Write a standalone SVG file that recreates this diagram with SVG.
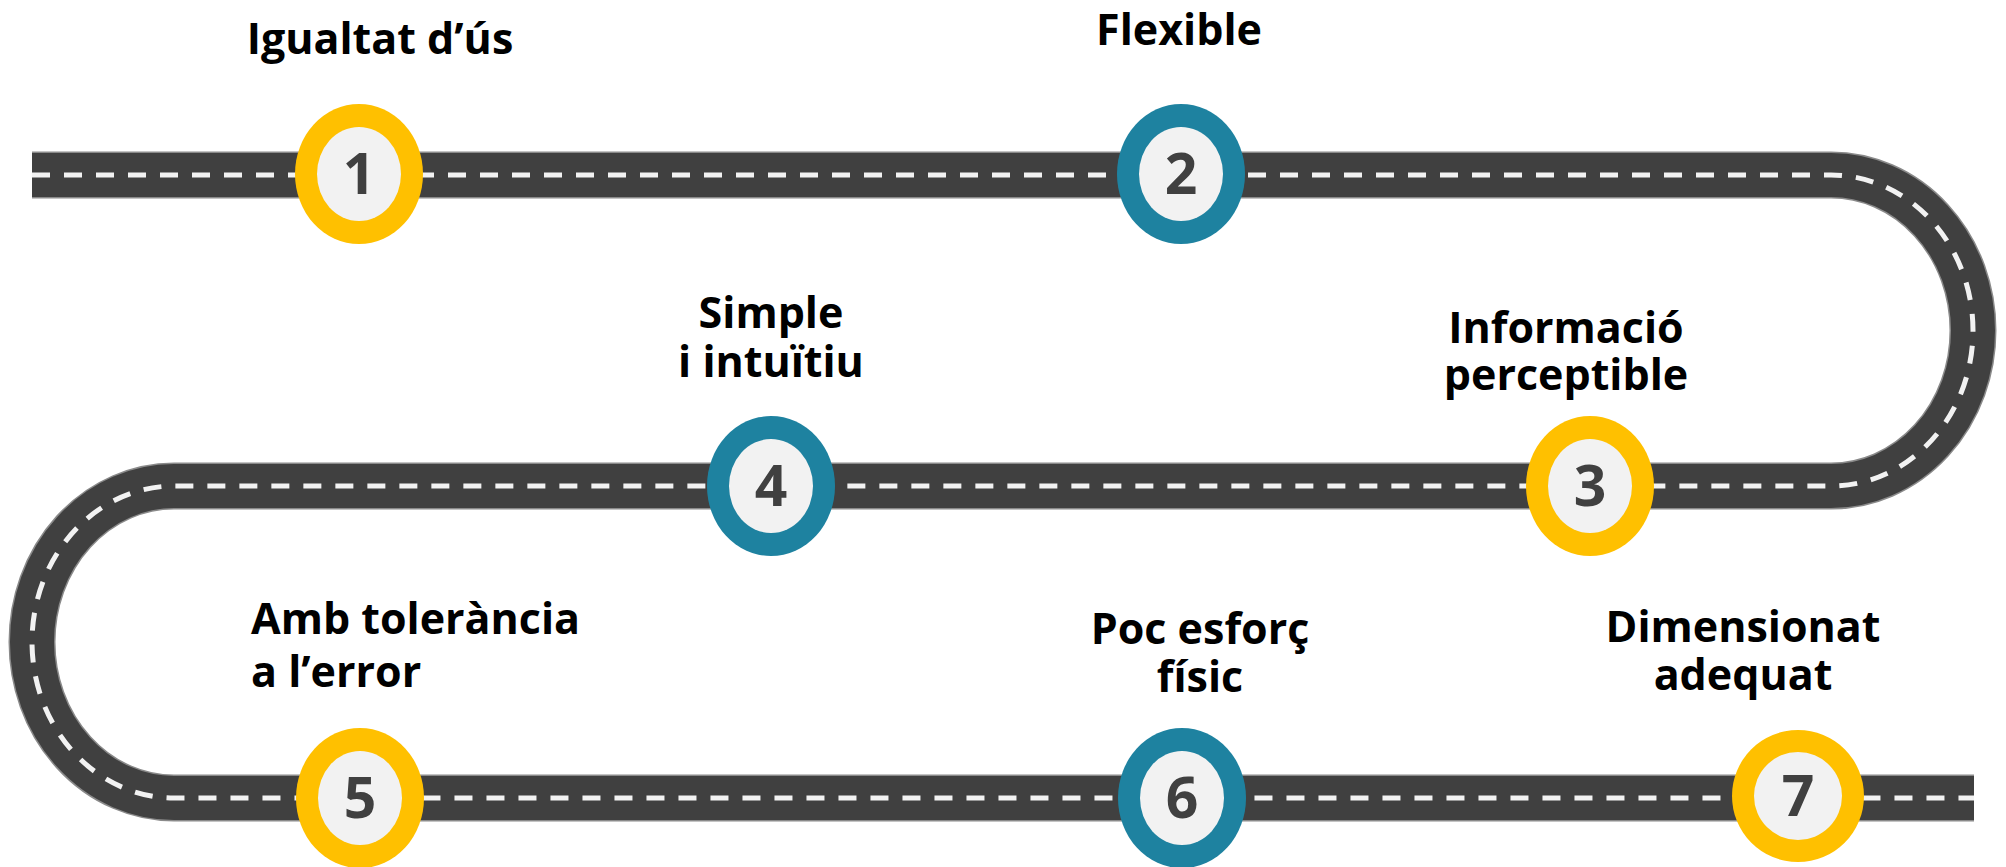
<svg xmlns="http://www.w3.org/2000/svg" width="2006" height="867" viewBox="0 0 2006 867">
<defs>
<style>
.edge{fill:none;stroke:#8a8a8a;stroke-width:47}
.road{fill:none;stroke:#404040;stroke-width:44}
.lane{fill:none;stroke:#F2F2F2;stroke-width:5;stroke-dasharray:18 14}
.ry{fill:#FFC000}
.rb{fill:#1E82A0}
.in{fill:#F2F2F2}
.num{font-family:"Open Sans","Noto Sans",sans-serif;font-weight:700;font-size:57px;fill:#404040;text-anchor:middle}
.lbl{font-family:"Open Sans","Noto Sans",sans-serif;font-weight:700;font-size:43px;fill:#000000;text-anchor:middle}
</style>
</defs>
<rect width="2006" height="867" fill="#FFFFFF"/>
<g id="connectors">
<path class="edge" d="M32 175 H1831 A142 155.5 0 0 1 1831 486 H174 A142 156 0 0 0 174 798 H1974"/>
<path class="road" d="M32 175 H1831 A142 155.5 0 0 1 1831 486 H174 A142 156 0 0 0 174 798 H1974"/>
<path class="lane" d="M32 175 H1831 A142 155.5 0 0 1 1831 486 H174 A142 156 0 0 0 174 798 H1974"/>
</g>
<g id="node1">
<ellipse class="ry" cx="359" cy="174" rx="64" ry="70"/>
<ellipse class="in" cx="359" cy="174" rx="42" ry="47"/>
<text class="num" x="359" y="194">1</text>
<text class="lbl" x="380" y="54">Igualtat d’ús</text>
</g>
<g id="node2">
<ellipse class="rb" cx="1181" cy="174" rx="64" ry="70"/>
<ellipse class="in" cx="1181" cy="174" rx="42" ry="47"/>
<text class="num" x="1181" y="194">2</text>
<text class="lbl" x="1179" y="45">Flexible</text>
</g>
<g id="node3">
<ellipse class="ry" cx="1590" cy="486" rx="64" ry="70"/>
<ellipse class="in" cx="1590" cy="486" rx="42" ry="47"/>
<text class="num" x="1590" y="506">3</text>
<text class="lbl"><tspan x="1566" y="343">Informació</tspan><tspan x="1566" y="390">perceptible</tspan></text>
</g>
<g id="node4">
<ellipse class="rb" cx="771" cy="486" rx="64" ry="70"/>
<ellipse class="in" cx="771" cy="486" rx="42" ry="47"/>
<text class="num" x="771" y="506">4</text>
<text class="lbl"><tspan x="771" y="328">Simple</tspan><tspan x="771" y="377">i intuïtiu</tspan></text>
</g>
<g id="node5">
<ellipse class="ry" cx="360" cy="798" rx="64" ry="70"/>
<ellipse class="in" cx="360" cy="798" rx="42" ry="47"/>
<text class="num" x="360" y="818">5</text>
<text class="lbl" style="text-anchor:start"><tspan x="251" y="634">Amb tolerància</tspan><tspan x="251" y="687">a l’error</tspan></text>
</g>
<g id="node6">
<ellipse class="rb" cx="1182" cy="798" rx="64" ry="70"/>
<ellipse class="in" cx="1182" cy="798" rx="42" ry="47"/>
<text class="num" x="1182" y="818">6</text>
<text class="lbl"><tspan x="1200" y="644">Poc esforç</tspan><tspan x="1200" y="692">físic</tspan></text>
</g>
<g id="node7">
<circle class="ry" cx="1798" cy="796" r="66"/>
<circle class="in" cx="1798" cy="796" r="44"/>
<text class="num" x="1798" y="816">7</text>
<text class="lbl"><tspan x="1743" y="642">Dimensionat</tspan><tspan x="1743" y="690">adequat</tspan></text>
</g>
</svg>
